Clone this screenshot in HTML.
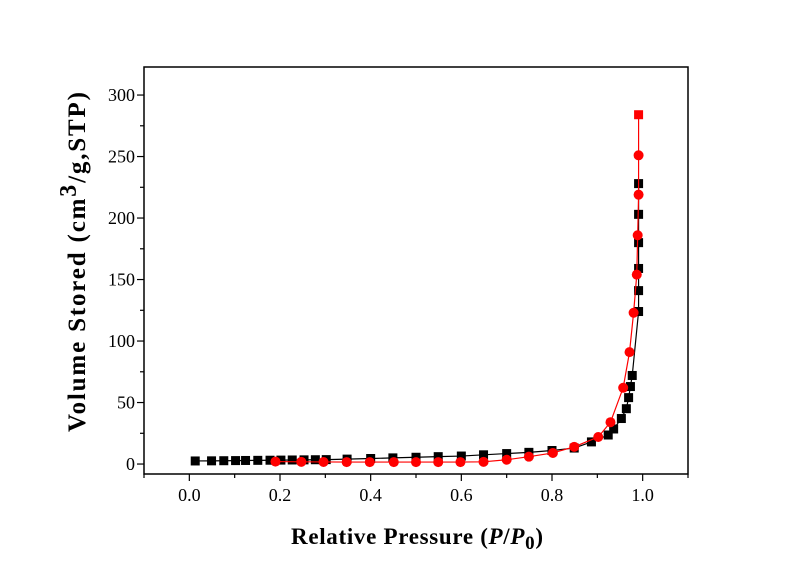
<!DOCTYPE html>
<html><head><meta charset="utf-8"><style>
body{margin:0;background:#fff;width:800px;height:565px;overflow:hidden}
svg text{font-family:"Liberation Serif",serif}
</style></head><body>
<svg id="c" width="800" height="565"></svg>
<script>
const blackX=[0.013,0.049,0.076,0.102,0.124,0.151,0.178,0.202,0.227,0.253,0.278,0.302,0.348,0.4,0.449,0.5,0.549,0.6,0.649,0.7,0.749,0.8,0.849,0.887,0.924,0.936,0.953,0.964,0.969,0.973,0.977,0.991,0.991,0.991,0.991,0.991,0.991];
const blackY=[2.5,2.6,2.7,2.8,2.9,3,3.1,3.2,3.3,3.4,3.5,3.6,4,4.5,5,5.5,6,6.5,7.5,8.5,9.5,11,13,18,23.6,28.5,37,45,54,63,72,124,141,159,180,203,228];
const redX=[0.19,0.247,0.296,0.347,0.398,0.451,0.5,0.549,0.598,0.649,0.7,0.749,0.802,0.849,0.902,0.929,0.957,0.971,0.98,0.987,0.989,0.991,0.991];
const redY=[2,1.8,1.7,1.6,1.6,1.6,1.6,1.6,1.6,1.8,3.5,6,9,14,22,34,62,91,123,154,186,219,251];
const redTopX=[0.991];
const redTopY=[284];
const xTicks=[0,0.2,0.4,0.6,0.8,1.0];
const xTickLabels=["0.0","0.2","0.4","0.6","0.8","1.0"];
const yTicks=[0,50,100,150,200,250,300];
const yTickLabels=["0","50","100","150","200","250","300"];
const L=144,R=688,T=67,B=474,xmin=-0.1,xmax=1.1,ymin=-8.1,ymax=322.8;
const sx=v=>L+(v-xmin)/(xmax-xmin)*(R-L);
const sy=v=>B-(v-ymin)/(ymax-ymin)*(B-T);
const NS="http://www.w3.org/2000/svg",svg=document.getElementById('c');
function mk(t,a,p){const e=document.createElementNS(NS,t);for(const k in a)e.setAttribute(k,a[k]);(p||svg).appendChild(e);return e;}
let e;
e=mk('rect',{x:L,y:T,width:R-L,height:B-T,fill:'none',stroke:'#000','stroke-width':1.5});


for(let v=-0.1;v<=1.101;v+=0.1){const maj=Math.abs(Math.round(v*10)%2)==0;
 e=mk('line',{x1:sx(v),x2:sx(v),y1:B,y2:B+(maj?7:4),stroke:'#000','stroke-width':1.2});
 
 }
xTicks.forEach((v,i)=>{e=mk('text',{x:sx(v),y:B+27,'text-anchor':'middle','font-size':18});e.textContent=xTickLabels[i];
 
 });
for(let v=0;v<=300;v+=25){const maj=v%50==0;
 e=mk('line',{x1:L,x2:L-(maj?7:4),y1:sy(v),y2:sy(v),stroke:'#000','stroke-width':1.2});
 
 }
yTicks.forEach((v,i)=>{e=mk('text',{x:L-9,y:sy(v)+6,'text-anchor':'end','font-size':18});e.textContent=yTickLabels[i];
 
 });
function series(xs,ys,col,shape,name){
 e=mk('polyline',{points:xs.map((x,i)=>sx(x)+','+sy(ys[i])).join(' '),fill:'none',stroke:col,'stroke-width':1.2});
 
 
 xs.forEach((x,i)=>{
  if(shape=='sq'){e=mk('rect',{x:sx(x)-4.5,y:sy(ys[i])-4.5,width:9,height:9,fill:col});}
  else{e=mk('circle',{cx:sx(x),cy:sy(ys[i]),r:5,fill:col});}
  
  });
}
series(blackX,blackY,'#000','sq','adsorption');
series(redX,redY,'#f00','ci','desorption');
e=mk('line',{x1:sx(redX[redX.length-1]),y1:sy(redY[redY.length-1]),x2:sx(redTopX[0]),y2:sy(redTopY[0]),stroke:'#f00','stroke-width':1.2});


e=mk('rect',{x:sx(redTopX[0])-4.5,y:sy(redTopY[0])-4.5,width:9,height:9,fill:'#f00'});


</script>
<svg width="800" height="565" style="position:absolute;left:0;top:0">
<text x="291" y="544" font-size="23" font-weight="bold" textLength="252" lengthAdjust="spacing">Relative Pressure (<tspan font-style="italic">P</tspan>/<tspan font-style="italic">P</tspan><tspan font-size="19" dy="5">0</tspan><tspan dy="-5">)</tspan></text>
<text transform="translate(85,432) rotate(-90)" font-size="25" font-weight="bold" textLength="340" lengthAdjust="spacing">Volume Stored (cm<tspan font-size="24" dy="-9">3</tspan><tspan dy="9">/g,STP)</tspan></text>
</svg>
</body></html>
